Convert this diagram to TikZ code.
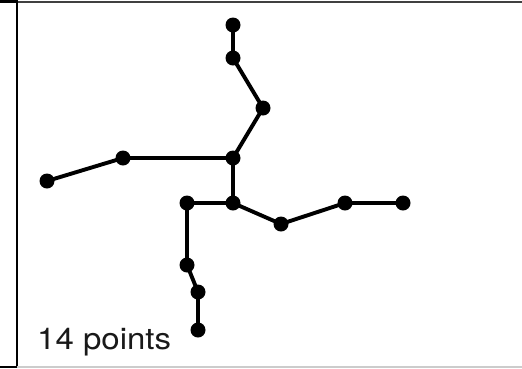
\documentclass[tikz,border=0pt]{standalone}
\usepackage{fontspec}
\setmainfont{TeX Gyre Heros}
\begin{document}
\begin{tikzpicture}[x=1pt,y=-1pt,
  pt/.style={circle,fill=black,inner sep=0pt,minimum size=15pt},
  edge/.style={line width=3.9pt,black},
  frame/.style={line width=1.6pt,black!75}]
\useasboundingbox (0,0) rectangle (522,368);
% frame
\draw[frame] (0,2.2) -- (522,2.2);
\draw[line width=3pt,black] (0,1.8) -- (17,1.8);
\draw[line width=1.8pt,black] (17,0) -- (17,368);
\draw[line width=1.2pt,black!20] (17,367) -- (522,367);
\draw[line width=1.2pt,black] (0,367) -- (17,367);
% points
\node[pt] (p1) at (233,25) {};
\node[pt] (p2) at (233,58) {};
\node[pt] (p3) at (263,108) {};
\node[pt] (p4) at (233,158) {};
\node[pt] (p5) at (123,158) {};
\node[pt] (p6) at (47,181) {};
\node[pt] (p7) at (233,203) {};
\node[pt] (p8) at (187,203) {};
\node[pt] (p9) at (187,265) {};
\node[pt] (p10) at (198,292) {};
\node[pt] (p11) at (198,330) {};
\node[pt] (p12) at (281,224) {};
\node[pt] (p13) at (345,203) {};
\node[pt] (p14) at (403,203) {};
% edges
\draw[edge] (p1.center) -- (p2.center) -- (p3.center) -- (p4.center) -- (p5.center) -- (p6.center);
\draw[edge] (p4.center) -- (p7.center) -- (p8.center) -- (p9.center) -- (p10.center) -- (p11.center);
\draw[edge] (p7.center) -- (p12.center) -- (p13.center) -- (p14.center);
% label
\node[anchor=base west,inner sep=0pt,text=black!90,font=\fontsize{30}{33}\selectfont,xscale=1.1] (lbl) at (37,349) {14 points};
\end{tikzpicture}
\end{document}
